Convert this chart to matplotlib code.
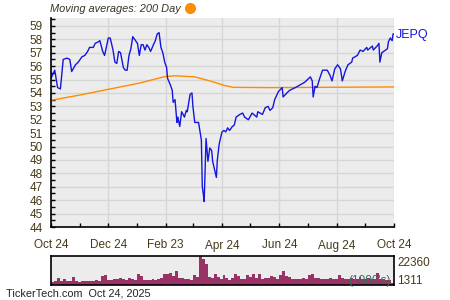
import matplotlib
matplotlib.use('Agg')
import numpy as np
import matplotlib.pyplot as plt
from matplotlib.ticker import MultipleLocator, FixedLocator

plt.rcParams['font.family'] = ['Liberation Sans', 'DejaVu Sans']

# days since Oct 24, 2024 and closing prices
price_days = [0, 4, 7, 10, 13, 17, 20, 22, 26, 29, 33, 36, 39, 41, 45, 47, 50, 52, 55, 57,
              61, 63, 66, 68, 70, 72, 74, 77, 79, 81, 83, 85, 87, 89, 92, 94, 96, 98, 100, 102,
              104, 106, 109, 111, 113, 115, 117, 119, 121, 123, 124, 127, 129, 130, 132, 134, 135, 137, 139, 142,
              144, 145, 148, 150, 151, 153, 155, 157, 160, 161, 162, 163, 165, 167, 169, 171, 172, 176, 177, 179,
              182, 184, 186, 188, 190, 193, 195, 197, 201, 204, 206, 210, 214, 219, 220, 225, 228, 231, 233, 236,
              238, 242, 246, 247, 251, 254, 260, 265, 270, 276, 278, 279, 281, 283, 286, 289, 294, 297, 299, 302,
              305, 308, 310, 313, 316, 320, 321, 326, 329, 332, 336, 337, 342, 343, 347, 349, 350, 352, 354, 358,
              359, 361, 363, 364, 365]
price = [55.1, 55.7, 54.4, 54.3, 56.5, 56.6, 56.5, 55.6, 56.1, 56.3, 56.7, 56.8, 57.1, 57.4, 57.4, 57.7, 57.8, 57.9, 57.1, 56.8,
         58.1, 58.1, 57.2, 56.3, 56.2, 57.1, 57.0, 55.9, 55.7, 55.7, 56.8, 57.3, 58.2, 58.0, 57.7, 56.8, 57.6, 57.6, 57.2, 57.6,
         57.4, 57.1, 57.6, 57.9, 58.4, 58.5, 57.4, 57.0, 56.3, 55.9, 55.1, 54.6, 54.2, 53.3, 53.5, 51.8, 52.2, 51.5, 52.6, 52.2,
         52.7, 52.6, 53.9, 54.0, 53.0, 51.8, 51.8, 51.8, 50.5, 47.0, 46.5, 45.9, 50.6, 48.9, 49.9, 49.7, 48.9, 47.7, 49.0, 50.2,
         51.1, 51.2, 51.1, 51.4, 51.2, 51.5, 51.6, 52.2, 52.4, 52.5, 52.2, 52.0, 52.5, 52.2, 52.6, 52.4, 52.9, 53.0, 52.7, 52.9,
         53.5, 54.1, 54.4, 53.7, 54.0, 54.2, 54.4, 54.6, 54.8, 55.2, 54.9, 53.7, 54.5, 54.4, 55.1, 55.7, 55.7, 55.3, 54.9, 55.8,
         56.1, 55.8, 54.9, 55.6, 56.1, 56.3, 56.6, 56.8, 57.2, 57.1, 57.4, 57.2, 57.5, 57.2, 57.5, 57.7, 56.3, 57.0, 57.1, 57.3,
         57.8, 58.1, 57.9, 58.4, 58.4]

# 200 day moving average
ma_days = [0, 31, 63, 95, 121, 132, 153, 169, 185, 194, 233, 365]
ma_vals = [53.45, 53.85, 54.3, 54.75, 55.22, 55.28, 55.2, 54.9, 54.55, 54.42, 54.4, 54.45]

# volume in 1000's, roughly one bar every 3 days
volume = [2340, 3120, 5720, 2860, 4940, 2860, 2860, 6240, 2860, 2340, 2860, 2860, 3380, 3380, 2860, 3640,
          3120, 6760, 7540, 4160, 3640, 4420, 4680, 5720, 4940, 4160, 5720, 4940, 4160, 8840, 7020, 4160,
          4160, 4160, 4940, 4160, 4940, 5720, 8320, 8840, 9620, 6760, 10660, 5720, 5200, 4940, 4420, 4160,
          7540, 6240, 22360, 19760, 16120, 6240, 5720, 8320, 6240, 4940, 7540, 5460,
          4160, 5720, 8320, 6760, 4420, 4940, 7540, 6240, 8320, 5720, 8840, 4940, 5720, 5720, 6760, 6240,
          4940, 7540, 10920, 7020, 6240, 4940, 4940, 4420, 4420, 5720, 4940, 7540, 8840, 5720, 5720, 4420,
          4420, 4940, 5720, 4940, 4940, 7540, 5720, 4940, 4940, 5720, 4420, 4940, 6240, 4940, 4940, 5720,
          4940, 4940, 9360, 4940, 4420, 4160, 3640, 1311]

tick_days = [0, 61, 122, 182, 243, 304, 365]
tick_labels = ['Oct 24', 'Dec 24', 'Feb 23', 'Apr 24', 'Jun 24', 'Aug 24', 'Oct 24']
minor_days = [31, 92, 151, 212, 273, 334]

txt = '#463a18'
bg = '#ececec'

fig = plt.figure(figsize=(4.5, 3), dpi=100)
ax = fig.add_axes([51/450, 1-227/300, 343/450, 209.5/300])
ax.set_facecolor(bg)
ax.plot(ma_days, ma_vals, color='#ff8c00', lw=1.0)
ax.plot(price_days, price, color='#1515e0', lw=1.0)
ax.set_xlim(0, 365)
ax.set_ylim(44, 59.63)
ax.yaxis.set_major_locator(MultipleLocator(1))
ax.yaxis.set_minor_locator(MultipleLocator(0.5))
ax.xaxis.set_major_locator(FixedLocator(tick_days))
ax.xaxis.set_minor_locator(FixedLocator(minor_days))
ax.set_xticklabels(tick_labels)
ax.grid(True, which='major', color='#d6d6d6', lw=1)
ax.set_axisbelow(True)
for s in ['top', 'right']:
    ax.spines[s].set_visible(False)
ax.spines['left'].set_linewidth(1.2)
ax.spines['bottom'].set_linewidth(1.2)
ax.tick_params(axis='both', which='both', direction='in', length=3, width=1, colors='black',
               labelcolor=txt, labelsize=8.5)
ax.tick_params(axis='y', pad=6)
ax.tick_params(axis='x', pad=9)
ax.text(1.005, 58.35, 'JEPQ', transform=ax.get_yaxis_transform(), color='#1515e0',
        fontsize=9, va='center', ha='left')

# volume panel
vax = fig.add_axes([51/450, 1-285/300, 343/450, 29/300])
vax.set_facecolor(bg)
step = 365 / len(volume)
vx = np.arange(len(volume)) * step + step / 2
vax.bar(vx, volume, width=step, color='#993366', linewidth=0)
vax.set_xlim(0, 365)
vax.set_ylim(0, 22360)
vax.set_xticks([])
vax.set_yticks([])
for s in vax.spines.values():
    s.set_linewidth(1.2)
vax.text(1.01, 0.75, '22360', transform=vax.transAxes, color=txt, fontsize=8.5, va='center')
vax.text(1.01, 0.13, '1311', transform=vax.transAxes, color=txt, fontsize=8.5, va='center')
vax.text(0.99, 0.13, "(1000's)", transform=vax.transAxes, color='#3c6e5a', fontsize=8.5,
         va='center', ha='right')

fig.text(50/450, 1-9/300, 'Moving averages: 200 Day', style='italic', color='#3a3526',
         fontsize=7.9, va='center', ha='left')
fig.add_artist(plt.Line2D([190/450], [1-8/300], marker='o', color='#ff8c00', markersize=7,
                          transform=fig.transFigure))
fig.text(6/450, 1-294/300, 'TickerTech.com  Oct 24, 2025', color='#222222', fontsize=7.8,
         va='center', ha='left')

fig.savefig('out.png', dpi=100)
